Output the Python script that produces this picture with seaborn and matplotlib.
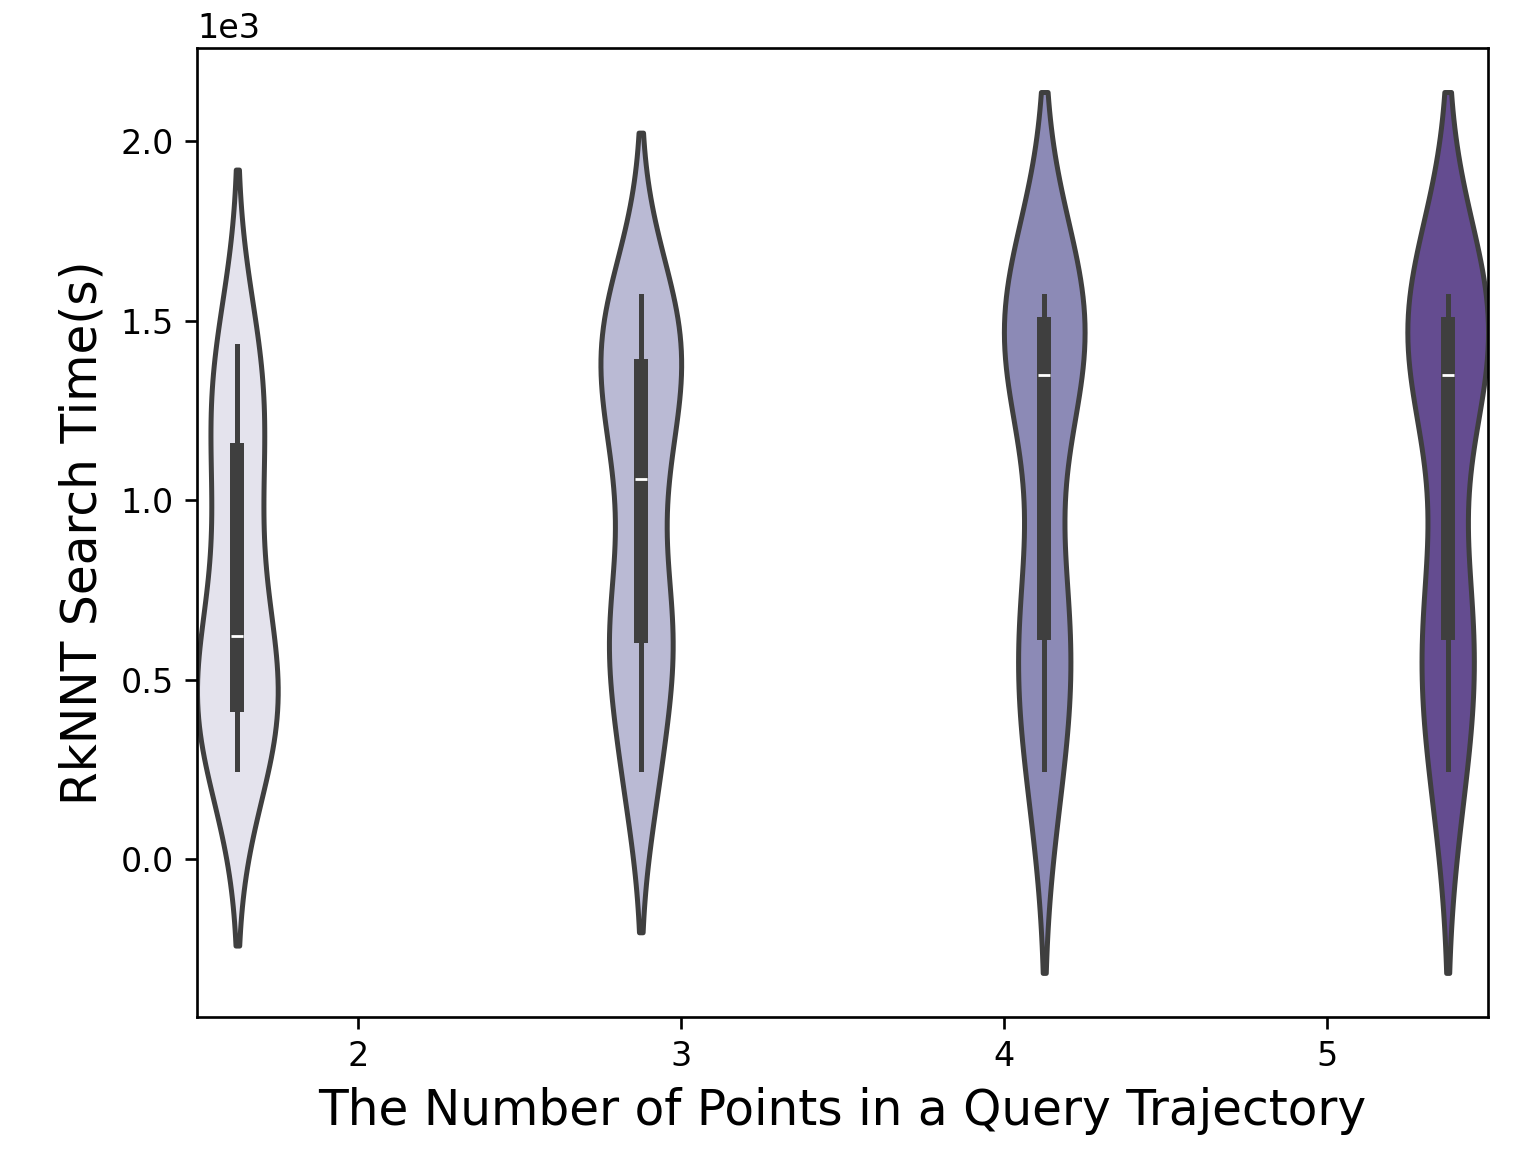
import pandas as pd
import seaborn as sns
import matplotlib.pyplot as plt

# Number of points in the query trajectory
points = [2, 3, 4, 5]

# RkNNT search time (s) per trajectory size
time_2 = [250, 380, 430, 500, 620, 900, 1140, 1300, 1430]
time_3 = [250, 600, 640, 1060, 1350, 1400, 1570]
time_4 = [250, 570, 690, 1350, 1430, 1550, 1570]
time_5 = [250, 570, 690, 1350, 1430, 1550, 1570]
times = [time_2, time_3, time_4, time_5]

# kernel bandwidth per group
bw_adjust = [0.88, 0.68, 0.775, 0.775]

df = pd.DataFrame({
    'points': [p for p, t in zip(points, times) for _ in t],
    'time': [v for t in times for v in t],
})

colors = sns.color_palette('Purples', 4)

fig = plt.figure(figsize=(1532 / 240, 1153 / 240), dpi=240)
ax = fig.add_axes([0.1286, 0.118, 0.8427, 0.8404])

for p, bw in zip(points, bw_adjust):
    sns.violinplot(data=df[df['points'] == p], x='points', y='time', hue='points',
                   palette=colors, order=points, hue_order=points, dodge=True, width=1,
                   density_norm='width', bw_adjust=bw, linewidth=1.5, linecolor='#3f3f3f',
                   inner_kws=dict(box_width=4.2, whis_width=1.5),
                   legend=False, ax=ax)

ax.ticklabel_format(axis='y', style='sci', scilimits=(3, 3))
ax.set_xlabel('The Number of Points in a Query Trajectory', fontsize=14.6)
ax.set_ylabel('RkNNT Search Time(s)', fontsize=14.6)

plt.savefig('out.png', dpi=240)
